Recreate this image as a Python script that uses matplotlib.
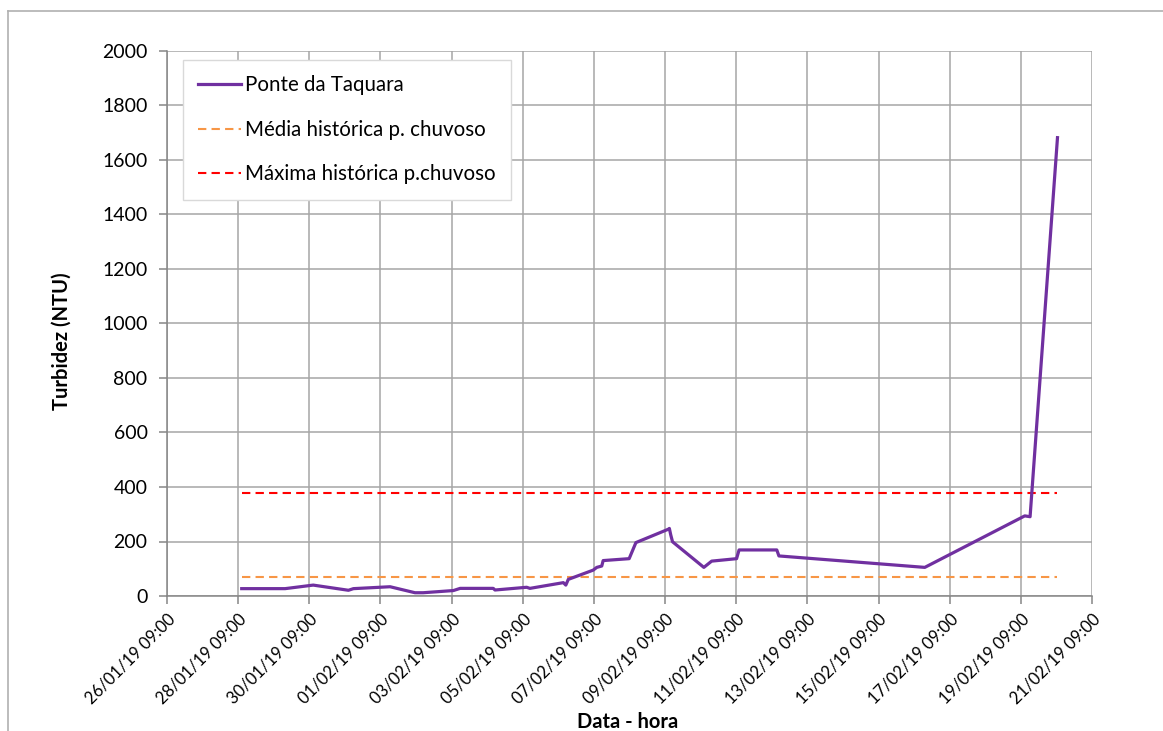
import matplotlib
matplotlib.use("Agg")
import matplotlib.pyplot as plt
import matplotlib.dates as mdates
from matplotlib.lines import Line2D
import pandas as pd

plt.rcParams["font.family"] = ["Lato", "DejaVu Sans"]

# série Ponte da Taquara
datas = [
    "2019-01-28 11:24", "2019-01-29 16:40", "2019-01-30 11:38", "2019-01-31 11:24",
    "2019-01-31 14:45", "2019-02-01 15:29", "2019-02-02 08:17", "2019-02-02 13:48",
    "2019-02-03 10:12", "2019-02-03 14:45", "2019-02-04 13:05", "2019-02-04 14:17",
    "2019-02-05 11:38", "2019-02-05 13:48", "2019-02-06 12:22", "2019-02-06 14:02",
    "2019-02-06 15:43", "2019-02-07 08:31", "2019-02-07 10:55", "2019-02-07 14:17",
    "2019-02-07 15:14", "2019-02-08 08:46", "2019-02-08 13:19", "2019-02-09 11:10",
    "2019-02-09 11:53", "2019-02-09 12:50", "2019-02-09 14:02", "2019-02-10 11:10",
    "2019-02-10 16:26", "2019-02-11 09:14", "2019-02-11 10:55", "2019-02-12 12:22",
    "2019-02-12 13:48", "2019-02-16 16:12", "2019-02-19 11:38", "2019-02-19 15:14",
    "2019-02-20 09:43",
]
turbidez = [
    27, 27, 40, 21, 27, 34, 12, 12, 20, 28, 28, 22, 32, 28, 49, 40, 61, 95, 105, 110,
    130, 137, 196, 245, 248, 224, 199, 105, 128, 137, 169, 169, 147, 105, 294, 291, 1682,
]
media_hist = 71
maxima_hist = 379

x = pd.to_datetime(datas)
x_ref = [x[0], x[-1]]
ticks = pd.date_range("2019-01-26 09:00", "2019-02-21 09:00", freq="2D")

fig = plt.figure(figsize=(11.63, 7.31), dpi=100)
ax = fig.add_axes([167 / 1163, 135 / 731, 925 / 1163, 545 / 731])

ax.plot(x, turbidez, color="#7030a0", linewidth=2.3, label="Ponte da Taquara", zorder=4)
ax.plot(x_ref, [media_hist] * 2, color="#f79646", linewidth=1.5, linestyle=(0, (4, 2.5)),
        label="Média histórica p. chuvoso", zorder=3)
ax.plot(x_ref, [maxima_hist] * 2, color="#ff0000", linewidth=1.5, linestyle=(0, (4, 2.5)),
        label="Máxima histórica p.chuvoso", zorder=3)

ax.set_xlim(ticks[0], ticks[-1])
ax.set_ylim(0, 2000)
ax.set_yticks(range(0, 2001, 200))
ax.set_xticks(ticks)
ax.xaxis.set_major_formatter(mdates.DateFormatter("%d/%m/%y %H:%M"))
ax.grid(color="#a6a6a6", linewidth=1.1)
ax.set_axisbelow(True)
for s in ("top", "right"):
    ax.spines[s].set_visible(False)
for s in ("left", "bottom"):
    ax.spines[s].set_color("#868686")
    ax.spines[s].set_linewidth(1.1)
ax.tick_params(axis="both", colors="#868686", length=6, width=1.1, labelsize=12,
               labelcolor="black")
ax.tick_params(axis="x", pad=5)
ax.tick_params(axis="y", pad=8, labelsize=14)
plt.setp(ax.get_xticklabels(), rotation=45, ha="right", va="top", rotation_mode="anchor")

leg = ax.legend(loc="upper left", bbox_to_anchor=(0.017, 0.984), borderaxespad=0,
                fontsize=14.8, frameon=True, fancybox=False, edgecolor="#d9d9d9",
                framealpha=1, labelspacing=1.2, handlelength=2.1, handletextpad=0.2,
                borderpad=0.75)
leg.get_frame().set_linewidth(1.0)

fig.text(62 / 1163, 1 - 341 / 731, "Turbidez (NTU)", rotation=90, ha="center",
         va="center", fontsize=14.5, fontweight="bold")
fig.text(628 / 1163, 1 - 722 / 731, "Data - hora", ha="center", va="center",
         fontsize=14.5, fontweight="bold")

# moldura da área do gráfico
fig.add_artist(Line2D([8 / 1163, 1], [1 - 11 / 731] * 2, transform=fig.transFigure,
                      color="#b0b0b0", linewidth=1.2))
fig.add_artist(Line2D([8 / 1163] * 2, [0, 1 - 11 / 731], transform=fig.transFigure,
                      color="#b0b0b0", linewidth=1.2))

fig.savefig("out.png", dpi=100)
